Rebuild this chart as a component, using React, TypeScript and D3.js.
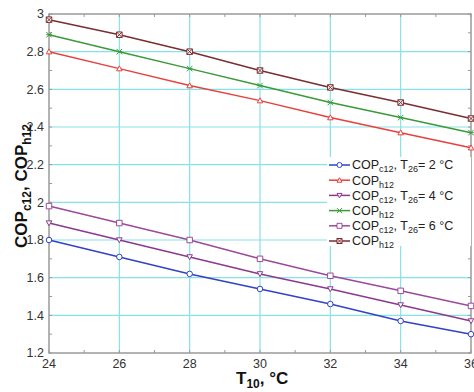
import React from 'react';
import * as d3 from 'd3';

// T10 values, °C
const temps = [24, 26, 28, 30, 32, 34, 36];

// COP values, one array per series
const copC2 = [1.80, 1.71, 1.62, 1.54, 1.46, 1.37, 1.30];
const copH2 = [2.80, 2.71, 2.62, 2.54, 2.45, 2.37, 2.29];
const copC4 = [1.89, 1.80, 1.71, 1.62, 1.54, 1.455, 1.37];
const copH4 = [2.89, 2.80, 2.71, 2.62, 2.53, 2.45, 2.37];
const copC6 = [1.98, 1.89, 1.80, 1.70, 1.61, 1.53, 1.45];
const copH6 = [2.97, 2.89, 2.80, 2.70, 2.61, 2.53, 2.445];

const xTicks = [24, 26, 28, 30, 32, 34, 36];
const yTicks = [1.2, 1.4, 1.6, 1.8, 2, 2.2, 2.4, 2.6, 2.8, 3];

const series = [
  { values: copC2, color: '#3142c8', marker: 'circle', kind: 'c', t: '2' },
  { values: copH2, color: '#e8403c', marker: 'triangle', kind: 'h', t: '' },
  { values: copC4, color: '#8a3a8e', marker: 'triDown', kind: 'c', t: '4' },
  { values: copH4, color: '#3a9a3a', marker: 'diamond', kind: 'h', t: '' },
  { values: copC6, color: '#9a4a9c', marker: 'square', kind: 'c', t: '6' },
  { values: copH6, color: '#7a2e30', marker: 'cross', kind: 'h', t: '' },
];

const W = 474, H = 392;
const left = 49, right = 471, top = 14, bottom = 353;

function markerPath(type: string, size: number) {
  const s = size / 2;
  switch (type) {
    case 'circle':
      return d3.symbol(d3.symbolCircle, size * size * 0.8)() as string;
    case 'triangle':
      return `M0,${-s}L${s},${s * 0.8}L${-s},${s * 0.8}Z`;
    case 'triDown':
      return `M0,${s}L${s},${-s * 0.8}L${-s},${-s * 0.8}Z`;
    case 'diamond':
      return `M${-s},${-s}L0,0L${-s},${s}M${s},${-s}L0,0L${s},${s}M${-s},0L${s},0`;
    case 'square':
      return `M${-s},${-s}H${s}V${s}H${-s}Z`;
    default:
      return `M${-s},${-s}H${s}V${s}H${-s}ZM${-s},${-s}L${s},${s}M${s},${-s}L${-s},${s}`;
  }
}

export default function App() {
  const x = d3.scaleLinear().domain([24, 36]).range([left, right]);
  const y = d3.scaleLinear().domain([1.2, 3]).range([bottom, top]);
  const line = d3.line<number>()
    .x((_, i) => x(temps[i]))
    .y(d => y(d));

  const minorX = d3.range(24, 36.01, 1);
  const minorY = d3.range(1.2, 3.001, 0.1);

  const legX = 327, legY = 157, legW = 144, legH = 89;
  const rowH = 15.2;

  return (
    <div style={{ position: 'absolute', left: 0, top: 0 }}>
      <svg width={W} height={H} style={{ display: 'block', fontFamily: 'Arial, "Liberation Sans", sans-serif' }}>
        <rect x={0} y={0} width={W} height={H} fill="#ffffff" />
        {/* grid */}
        {xTicks.slice(1, -1).map(t => (
          <line key={'gx' + t} x1={x(t)} x2={x(t)} y1={top} y2={bottom} stroke="#86e1e8" strokeWidth={1.2} />
        ))}
        {yTicks.slice(1, -1).map(t => (
          <line key={'gy' + t} x1={left} x2={right} y1={y(t)} y2={y(t)} stroke="#86e1e8" strokeWidth={1.2} />
        ))}
        {/* minor ticks */}
        {minorX.map(t => (
          <g key={'mx' + t} stroke="#9a9a9a" strokeWidth={1}>
            <line x1={x(t)} x2={x(t)} y1={bottom} y2={bottom - 3} />
            <line x1={x(t)} x2={x(t)} y1={top} y2={top + 3} />
          </g>
        ))}
        {minorY.map(t => (
          <g key={'my' + t.toFixed(1)} stroke="#9a9a9a" strokeWidth={1}>
            <line x1={left} x2={left + 3} y1={y(t)} y2={y(t)} />
            <line x1={right} x2={right - 3} y1={y(t)} y2={y(t)} />
          </g>
        ))}
        {/* axes box */}
        <rect x={left} y={top} width={right - left} height={bottom - top} fill="none" stroke="#9a9a9a" strokeWidth={1.5} />
        {/* series */}
        {series.map((s, si) => (
          <g key={'s' + si}>
            <path d={line(s.values) as string} fill="none" stroke={s.color} strokeWidth={1.5} />
            {s.values.map((v, i) => (
              <path key={i} transform={`translate(${x(temps[i])},${y(v)})`} d={markerPath(s.marker, 5.5)}
                fill={s.marker === 'diamond' ? 'none' : '#ffffff'} stroke={s.color} strokeWidth={1} />
            ))}
          </g>
        ))}
        {/* tick labels */}
        {yTicks.map(t => (
          <text key={'ty' + t} x={left - 5} y={y(t)} dy="0.35em" textAnchor="end" fontSize={12.5} fill="#333">
            {d3.format('~g')(t)}
          </text>
        ))}
        {xTicks.map(t => (
          <text key={'tx' + t} x={x(t)} y={bottom + 15} textAnchor="middle" fontSize={12.5} fill="#333">
            {t}
          </text>
        ))}
        {/* axis titles */}
        <text x={236} y={384} fontSize={17} fontWeight="bold" fill="#111">
          T<tspan fontSize={12} dy={4}>10</tspan><tspan dy={-4}>, °C</tspan>
        </text>
        <text transform={`translate(27,${186}) rotate(-90)`} textAnchor="middle" fontSize={17} fontWeight="bold" fill="#111">
          COP<tspan fontSize={12} dy={4}>c12</tspan><tspan dy={-4}>,  COP</tspan><tspan fontSize={12} dy={4}>h12</tspan>
        </text>
        {/* legend */}
        <rect x={legX} y={legY} width={legW} height={legH} fill="#ffffff" />
        {series.map((s, i) => {
          const ly = legY + 8 + i * rowH;
          return (
            <g key={'l' + i}>
              <line x1={legX + 2} x2={legX + 23} y1={ly} y2={ly} stroke={s.color} strokeWidth={1.5} />
              <path transform={`translate(${legX + 12.5},${ly})`} d={markerPath(s.marker, 5)}
                fill={s.marker === 'diamond' ? 'none' : '#ffffff'} stroke={s.color} strokeWidth={1} />
              <text x={legX + 25} y={ly} dy="0.35em" fontSize={12.5} fill="#222">
                COP<tspan fontSize={9} dy={3}>{s.kind + '12'}</tspan>
                {s.t ? (
                  <>
                    <tspan dy={-3}>, T</tspan><tspan fontSize={9} dy={3}>26</tspan><tspan dy={-3}>{`= ${s.t} °C`}</tspan>
                  </>
                ) : null}
              </text>
            </g>
          );
        })}
      </svg>
    </div>
  );
}
